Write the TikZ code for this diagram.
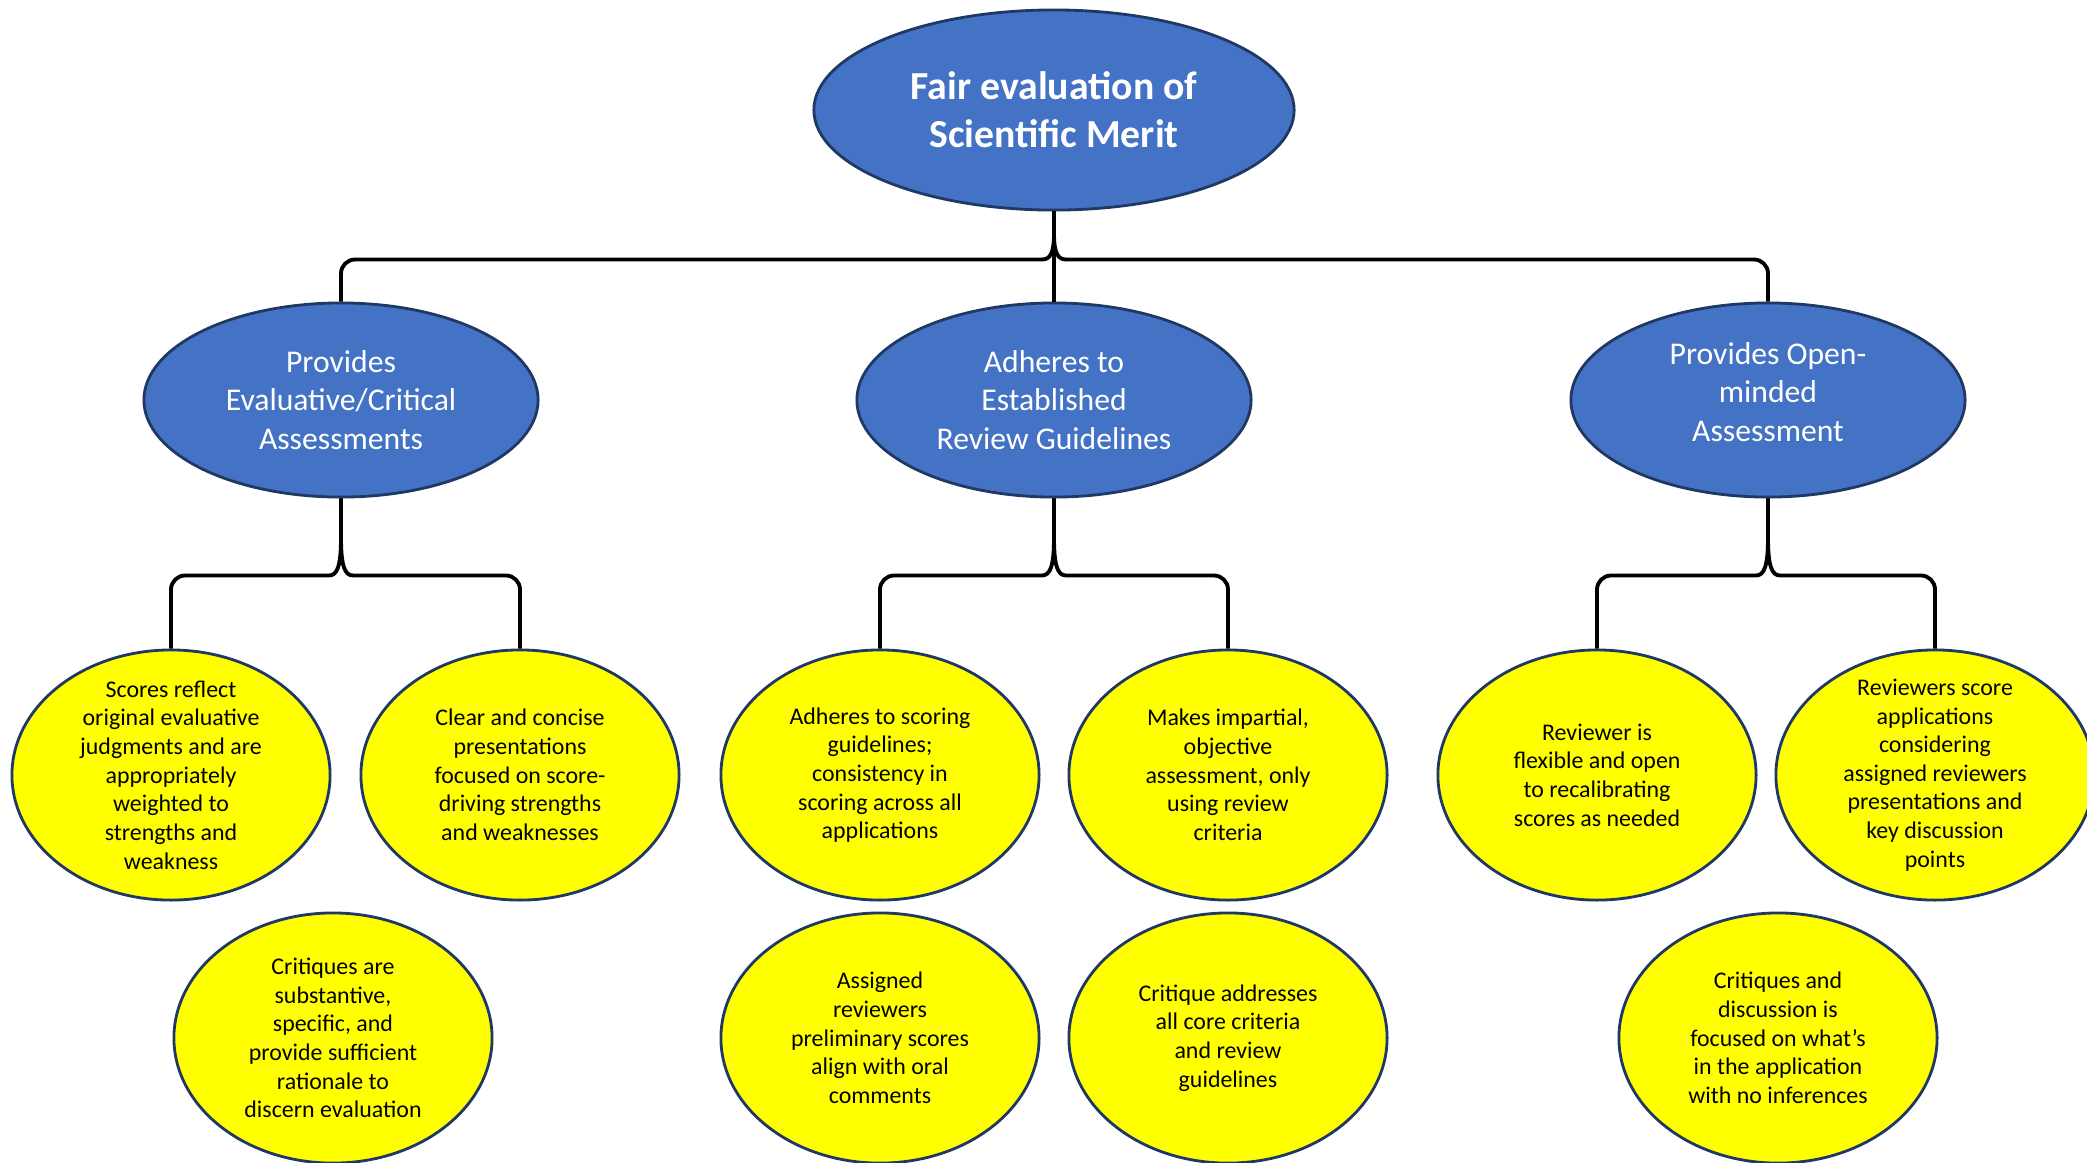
\documentclass[tikz,border=0pt]{standalone}
\usepackage{fontspec}
\setmainfont{Carlito}
\usetikzlibrary{shapes.geometric}
\definecolor{meritblue}{RGB}{68,114,196}
\definecolor{meritnavy}{RGB}{32,56,100}
\definecolor{leafyellow}{RGB}{255,255,0}

\tikzset{
  rootnode/.style={ellipse,draw=meritnavy,fill=meritblue,line width=0.8pt,
    minimum width=4.8cm,minimum height=2.0cm,inner sep=0pt},
  midnode/.style={ellipse,draw=meritnavy,fill=meritblue,line width=0.8pt,
    minimum width=3.94cm,minimum height=1.94cm,inner sep=0pt},
  leafnode/.style={ellipse,draw=meritnavy,fill=leafyellow,line width=0.8pt,
    minimum width=3.18cm,minimum height=2.5cm,inner sep=0pt},
  roottext/.style={text=white,align=center,font=\fontsize{11.3}{13.6}\selectfont\bfseries},
  midtext/.style={text=white,align=center,font=\fontsize{9}{10.9}\selectfont},
  leaftext/.style={text=black,align=center,font=\fontsize{6.8}{8.15}\selectfont},
  brace/.style={black,line width=1.1pt,line join=round}
}

\begin{document}
\begin{tikzpicture}[x=0.01cm,y=-0.01cm]

  % ── FRAME ──────────────────────────────────────────────────────────────────
  \useasboundingbox (0,0) rectangle (2087,1162);
  \clip (0,0) rectangle (2087,1162);

  % ── TOP ────────────────────────────────────────────────────────────────────
  \node[rootnode] (root) at (1054,110) {};
  \node[roottext] (root-t) at (root) {Fair evaluation of\\Scientific Merit};

  % ── SECOND ROW ─────────────────────────────────────────────────────────────
  \node[midnode] (critical) at (341,400) {};
  \node[midtext] (critical-t) at (critical) {Provides\\Evaluative/Critical\\Assessments};

  \node[midnode] (guide) at (1054,400) {};
  \node[midtext] (guide-t) at (guide) {Adheres to\\Established\\Review Guidelines};

  \node[midnode] (openm) at (1768,400) {};
  \node[midtext] (openm-t) at (1768,392) {Provides Open-\\minded\\Assessment};

  % ── LEAVES ─────────────────────────────────────────────────────────────────
  \node[leafnode] (crA) at (171,775) {};
  \node[leaftext] (crA-t) at (crA) {Scores reflect\\original evaluative\\judgments and are\\appropriately\\weighted to\\strengths and\\weakness};

  \node[leafnode] (crB) at (520,775) {};
  \node[leaftext] (crB-t) at (crB) {Clear and concise\\presentations\\focused on score-\\driving strengths\\and weaknesses};

  \node[leafnode] (crC) at (333,1038) {};
  \node[leaftext] (crC-t) at (crC) {Critiques are\\substantive,\\specific, and\\provide sufficient\\rationale to\\discern evaluation};

  \node[leafnode] (gdA) at (880,775) {};
  \node[leaftext] (gdA-t) at (gdA) {Adheres to scoring\\guidelines;\\consistency in\\scoring across all\\applications};

  \node[leafnode] (gdB) at (1228,775) {};
  \node[leaftext] (gdB-t) at (gdB) {Makes impartial,\\objective\\assessment, only\\using review\\criteria};

  \node[leafnode] (gdC) at (880,1038) {};
  \node[leaftext] (gdC-t) at (gdC) {Assigned\\reviewers\\preliminary scores\\align with oral\\comments};

  \node[leafnode] (gdD) at (1228,1038) {};
  \node[leaftext] (gdD-t) at (gdD) {Critique addresses\\all core criteria\\and review\\guidelines};

  \node[leafnode] (omA) at (1597,775) {};
  \node[leaftext] (omA-t) at (omA) {Reviewer is\\flexible and open\\to recalibrating\\scores as needed};

  \node[leafnode] (omB) at (1935,775) {};
  \node[leaftext] (omB-t) at (omB) {Reviewers score\\applications\\considering\\assigned reviewers\\presentations and\\key discussion\\points};

  \node[leafnode] (omC) at (1778,1038) {};
  \node[leaftext] (omC-t) at (omC) {Critiques and\\discussion is\\focused on what’s\\in the application\\with no inferences};

  % ── BRACES ─────────────────────────────────────────────────────────────────
  \draw[brace] (root.south) -- (guide.north);
  \draw[brace] (root.south) -- ++(0,22) .. controls +(0,20) and +(8,0) .. ++(-12,26)
    [rounded corners=4pt] -| (critical.north);
  \draw[brace] (root.south) -- ++(0,22) .. controls +(0,20) and +(-8,0) .. ++(12,26)
    [rounded corners=4pt] -| (openm.north);

  \foreach \p/\a/\b in {critical/crA/crB, guide/gdA/gdB, openm/omA/omB}{
    \draw[brace] (\p.south) -- ++(0,40) .. controls +(0,28) and +(8,0) .. ++(-12,37)
      [rounded corners=4pt] -| (\a.north);
    \draw[brace] (\p.south) -- ++(0,40) .. controls +(0,28) and +(-8,0) .. ++(12,37)
      [rounded corners=4pt] -| (\b.north);
  }

\end{tikzpicture}
\end{document}
